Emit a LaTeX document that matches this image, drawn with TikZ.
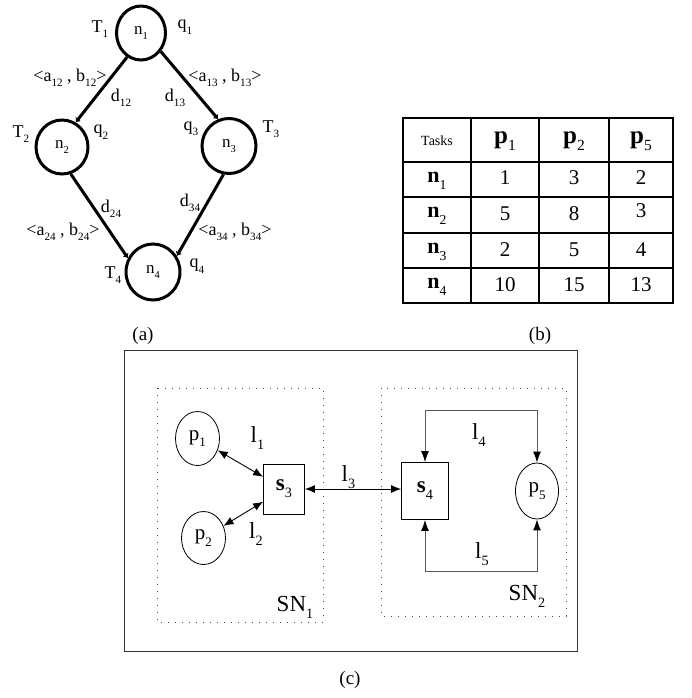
\documentclass[tikz,border=0pt]{standalone}
\usepackage{fontspec}
\setmainfont{Liberation Serif}
\usetikzlibrary{arrows.meta,shapes.geometric}
\newcommand\lowsub[1]{\raisebox{-0.3em}{\scalebox{0.62}{\normalfont #1}}}
\begin{document}
\begin{tikzpicture}[x=1pt,y=-1pt,
  tnode/.style={draw,ellipse,line width=3pt,inner sep=0pt,font=\fontsize{17}{20}\selectfont},
  dep/.style={line width=3pt,-{Latex[length=4pt,width=7pt]}},
  lab/.style={inner sep=0pt,font=\fontsize{18}{21}\selectfont},
  cell/.style={inner sep=0pt,font=\fontsize{21}{24}\selectfont},
  hcell/.style={inner sep=0pt,font=\fontsize{25}{28}\selectfont\bfseries},
  rcell/.style={inner sep=0pt,font=\fontsize{22}{24}\selectfont\bfseries},
  tline/.style={line width=1.1pt},
  proc/.style={draw,ellipse,line width=0.8pt,inner sep=0pt,font=\fontsize{21}{24}\selectfont},
  sw/.style={draw,rectangle,line width=0.8pt,inner sep=0pt,font=\fontsize{23}{26}\selectfont\bfseries},
  clab/.style={inner sep=0pt,font=\fontsize{23}{26}\selectfont},
  link/.style={line width=0.9pt,{Latex[length=10pt,width=8pt]}-{Latex[length=10pt,width=8pt]}},
  loop/.style={line width=1pt,draw=black!65,{Latex[length=11pt,width=8pt,fill=black,color=black]}-{Latex[length=11pt,width=8pt,fill=black,color=black]}},
  dotbox/.style={draw=black!70,line width=1pt,dash pattern=on 0.9pt off 6.1pt},
  caption/.style={inner sep=0pt,font=\fontsize{19}{22}\selectfont}
]
\useasboundingbox (0,0) rectangle (692,698);

% ---------- (a) task graph ----------
\node[tnode,minimum width=49pt,minimum height=54pt] (n1) at (141,33) {n\lowsub{1}};
\node[tnode,minimum width=52pt,minimum height=54pt] (n2) at (62,147) {n\lowsub{2}};
\node[tnode,minimum width=54pt,minimum height=55pt] (n3) at (229,146) {n\lowsub{3}};
\node[tnode,minimum width=54pt,minimum height=56pt] (n4) at (153,272) {n\lowsub{4}};
\draw[dep] (n1.-120) -- (n2.61);
\draw[dep] (n1.-43) -- (n3.112);
\draw[dep] (n2.-72) -- (n4.151);
\draw[dep] (n3.-101) -- (n4.34);

\node[lab] (T1) at (100,29) {T\lowsub{1}};
\node[lab] (q1) at (185,27) {q\lowsub{1}};
\node[lab] (e12) at (70,78) {<a\lowsub{12} , b\lowsub{12}>};
\node[lab] (d12) at (121,98) {d\lowsub{12}};
\node[lab] (e13) at (225,78) {<a\lowsub{13} , b\lowsub{13}>};
\node[lab] (d13) at (175,98) {d\lowsub{13}};
\node[lab] (T2) at (21,134) {T\lowsub{2}};
\node[lab] (q2) at (101,132) {q\lowsub{2}};
\node[lab] (q3) at (191,129) {q\lowsub{3}};
\node[lab] (T3) at (271,129) {T\lowsub{3}};
\node[lab] (d24) at (111,209) {d\lowsub{24}};
\node[lab] (d34) at (190,203) {d\lowsub{34}};
\node[lab] (e24) at (63,232) {<a\lowsub{24} , b\lowsub{24}>};
\node[lab] (e34) at (235,232) {<a\lowsub{34} , b\lowsub{34}>};
\node[lab] (T4) at (113,275) {T\lowsub{4}};
\node[lab] (q4) at (197,266) {q\lowsub{4}};

% ---------- (b) table ----------
\draw[tline] (403,118) rectangle (673,303);
\foreach \xx in {471,539,609} \draw[tline] (\xx,118) -- (\xx,303);
\foreach \yy in {162,197,233,268} \draw[tline] (403,\yy) -- (673,\yy);
\node[inner sep=0pt,font=\fontsize{14}{17}\selectfont] (th) at (437,141) {Tasks};
\node[hcell] (hp1) at (505,141) {p\lowsub{1}};
\node[hcell] (hp2) at (574,141) {p\lowsub{2}};
\node[hcell] (hp5) at (641,141) {p\lowsub{5}};
\node[rcell] (rn1) at (437,181) {n\lowsub{1}};
\node[rcell] (rn2) at (437,216) {n\lowsub{2}};
\node[rcell] (rn3) at (437,252) {n\lowsub{3}};
\node[rcell] (rn4) at (437,287) {n\lowsub{4}};
\node[cell] (c11) at (505,178) {1};
\node[cell] (c12) at (574,178) {3};
\node[cell] (c15) at (641,178) {2};
\node[cell] (c21) at (505,214) {5};
\node[cell] (c22) at (574,214) {8};
\node[cell] (c25) at (641,211) {3};
\node[cell] (c31) at (505,250) {2};
\node[cell] (c32) at (574,250) {5};
\node[cell] (c35) at (641,250) {4};
\node[cell] (c41) at (505,285) {10};
\node[cell] (c42) at (574,285) {15};
\node[cell] (c45) at (641,285) {13};

\node[caption] (capa) at (143,336) {(a)};
\node[caption] (capb) at (540,336) {(b)};

% ---------- (c) network ----------
\draw[line width=1pt,draw=black!80] (124,350) rectangle (577,651);
\draw[dotbox] (157,388) rectangle (323,622);
\draw[dotbox] (381,388) rectangle (566,616);

\node[proc,minimum width=44pt,minimum height=54pt] (p1) at (197.5,438.5) {p\lowsub{1}};
\node[proc,minimum width=44pt,minimum height=53pt] (p2) at (203.5,538) {p\lowsub{2}};
\node[sw,minimum width=41pt,minimum height=50pt] (s3) at (284,489) {s\lowsub{3}};
\node[sw,minimum width=47pt,minimum height=57pt] (s4) at (425,491) {s\lowsub{4}};
\node[proc,minimum width=43pt,minimum height=56pt] (p5) at (537,491) {p\lowsub{5}};

\draw[link] (p1) -- (s3);
\draw[link] (p2) -- (s3);
\draw[link] (s3.east) -- (s3.east -| s4.west);
\draw[loop] (s4.north) -- ++(0,-51.5) -| (p5.north);
\draw[loop] (s4.south) -- ++(0,51.5) -| (p5.south);

\node[clab] (l1) at (257.5,438) {l\lowsub{1}};
\node[clab] (l2) at (256,534) {l\lowsub{2}};
\node[clab] (l3) at (348.5,477) {l\lowsub{3}};
\node[clab] (l4) at (479,435) {l\lowsub{4}};
\node[clab] (l5) at (482,554) {l\lowsub{5}};
\node[clab] (SN1) at (295,607) {SN\lowsub{1}};
\node[clab] (SN2) at (527,596) {SN\lowsub{2}};

\node[caption] (capc) at (350,680) {(c)};
\end{tikzpicture}
\end{document}
